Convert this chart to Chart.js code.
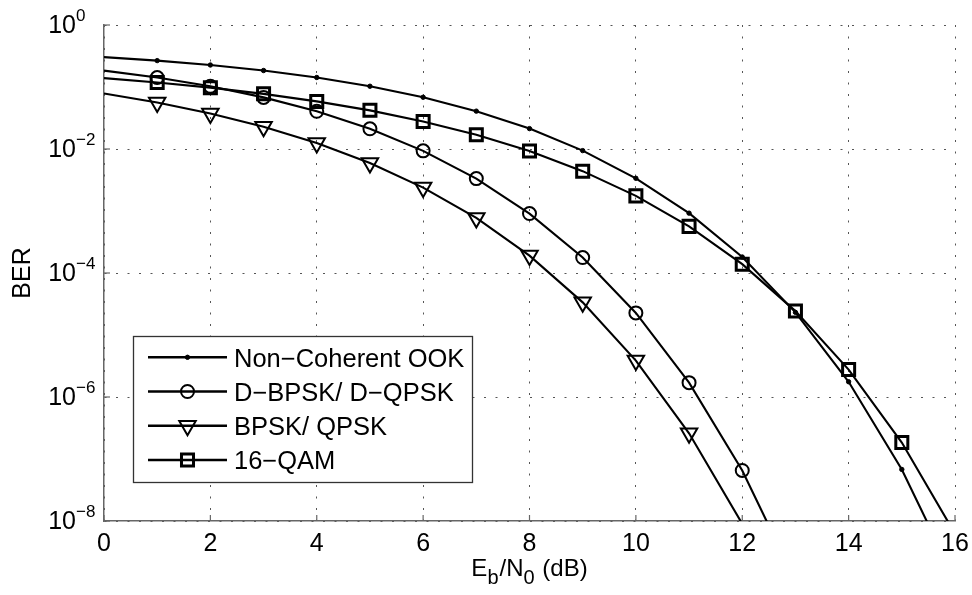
<!DOCTYPE html>
<html><head><meta charset="utf-8">
<script src="https://cdn.jsdelivr.net/npm/chart.js@4.4.1/dist/chart.umd.min.js"></script>
<style>html,body{margin:0;padding:0;background:#fff;}#wrap{position:relative;width:972px;height:595px;}</style>
</head><body><div id="wrap"><canvas id="c" width="972" height="595"></canvas></div>
<script>
// ---- data ----
const ebn0 = [0,1,2,3,4,5,6,7,8,9,10,11,12,13,14,15,16];
const ook   = [0.3033,0.2665,0.2264,0.1844,0.1424,0.1029,0.0683,0.0408,0.02133,0.009424,0.003369,9.23e-4,1.81e-4,2.32e-5,1.76e-6,6.79e-8,1.13e-9];
const dbpsk = [0.1839,0.1420,0.1025,0.0680,0.04056,0.02116,0.009333,0.003329,9.09e-4,1.775e-4,2.27e-5,1.705e-6,6.54e-8,1.08e-9,null,null,null];
const bpsk  = [0.07865,0.0563,0.0375,0.02287,0.0125,0.005954,0.002388,7.73e-4,1.907e-4,3.36e-5,3.87e-6,2.60e-7,9.01e-9,1.33e-10,null,null,null];
const qam16 = [0.1393,0.1184,0.0976,0.0775,0.0586,0.0420,0.02787,0.01697,0.009247,0.00439,0.001754,5.65e-4,1.387e-4,2.43e-5,2.77e-6,1.84e-7,6.25e-9];
const seriesNames = ['Non\u2212Coherent OOK','D\u2212BPSK/ D\u2212QPSK','BPSK/ QPSK','16\u2212QAM'];
const xTickValues = [0,2,4,6,8,10,12,14,16];
const yTickExponents = [0,-2,-4,-6,-8];
const yAxisTitle = 'BER';
const xAxisTitleParts = [{t:'E'},{t:'b',sub:true},{t:'/N'},{t:'0',sub:true},{t:' (dB)'}];

// ---- styling ----
const FONT = '"Liberation Sans", Arial, Helvetica, sans-serif';
Chart.defaults.font.family = FONT;
const Y_MIN = 1e-8, Y_MAX = 1;
const styles = [
  {pointStyle:'circle', r:2.2, bw:1, fill:'#000', rot:0},
  {pointStyle:'circle', r:6.5, bw:2, fill:'rgba(0,0,0,0)', rot:0},
  {pointStyle:'triangle', r:9.5, bw:2, fill:'rgba(0,0,0,0)', rot:180},
  {pointStyle:'rect', r:8.5, bw:3, fill:'rgba(0,0,0,0)', rot:0}
];
const seriesValues = [ook, dbpsk, bpsk, qam16];

const datasets = seriesValues.map((vals, k) => {
  const pts = [];
  ebn0.forEach((x, i) => { if (vals[i] !== null) pts.push({x: x, y: vals[i]}); });
  const st = styles[k];
  return {
    label: seriesNames[k],
    data: pts,
    borderColor: '#000',
    borderWidth: 2.1,
    backgroundColor: st.fill,
    pointStyle: st.pointStyle,
    pointRotation: st.rot,
    pointRadius: pts.map((p, i) => (i === 0 || p.y < Y_MIN) ? 0 : st.r),
    pointHoverRadius: pts.map((p, i) => (i === 0 || p.y < Y_MIN) ? 0 : st.r),
    pointBorderWidth: st.bw,
    pointBorderColor: '#000',
    pointBackgroundColor: st.fill,
    tension: 0,
    fill: false
  };
});

function drawMarker(ctx, st, x, y) {
  ctx.save();
  ctx.lineWidth = st.bw; ctx.strokeStyle = '#000'; ctx.fillStyle = st.fill;
  ctx.beginPath();
  if (st.pointStyle === 'circle') {
    ctx.arc(x, y, st.r, 0, Math.PI * 2);
  } else if (st.pointStyle === 'rect') {
    const s = st.r * Math.SQRT1_2;
    ctx.rect(x - s, y - s, 2 * s, 2 * s);
  } else if (st.pointStyle === 'triangle') {
    let a = st.rot * Math.PI / 180;
    for (let j = 0; j < 3; j++) {
      const px = x + Math.sin(a) * st.r, py = y - Math.cos(a) * st.r;
      if (j === 0) ctx.moveTo(px, py); else ctx.lineTo(px, py);
      a += 2 * Math.PI / 3;
    }
    ctx.closePath();
  }
  ctx.fill(); ctx.stroke();
  ctx.restore();
}

const overlay = {
  id: 'overlay',
  afterDraw(chart) {
    const ctx = chart.ctx, ca = chart.chartArea, xs = chart.scales.x, ys = chart.scales.y;
    ctx.save();
    // inside tick marks
    ctx.strokeStyle = '#666'; ctx.lineWidth = 1.2;
    xTickValues.forEach(v => {
      const px = xs.getPixelForValue(v);
      ctx.beginPath(); ctx.moveTo(px, ca.bottom); ctx.lineTo(px, ca.bottom - 6); ctx.stroke();
    });
    yTickExponents.forEach(e => {
      const py = ys.getPixelForValue(Math.pow(10, e));
      ctx.beginPath(); ctx.moveTo(ca.left, py); ctx.lineTo(ca.left + 6, py); ctx.stroke();
    });
    // y tick labels 10^e
    ctx.fillStyle = '#000';
    yTickExponents.forEach(e => {
      const py = ys.getPixelForValue(Math.pow(10, e));
      ctx.font = '25px ' + FONT; ctx.textAlign = 'right'; ctx.textBaseline = 'middle';
      ctx.fillText('10', ca.left - 28, py + 1);
      ctx.font = '17px ' + FONT; ctx.textAlign = 'left';
      ctx.fillText(e === 0 ? '0' : '\u2212' + (-e), ca.left - 28, py - 9);
    });
    // x axis title with subscripts
    const big = '24px ' + FONT, small = '20px ' + FONT;
    let total = 0;
    xAxisTitleParts.forEach(p => { ctx.font = p.sub ? small : big; total += ctx.measureText(p.t).width + (p.sub ? 1 : 0); });
    let cx = (ca.left + ca.right) / 2 - total / 2;
    const base = ca.bottom + 55;
    ctx.textAlign = 'left'; ctx.textBaseline = 'alphabetic';
    xAxisTitleParts.forEach(p => {
      ctx.font = p.sub ? small : big;
      ctx.fillText(p.t, cx, base + (p.sub ? 8 : 0));
      cx += ctx.measureText(p.t).width + (p.sub ? 1 : 0);
    });
    // legend
    const bx = ca.left + 29, by = ca.top + 311, bw = 339, bh = 146;
    ctx.fillStyle = '#fff'; ctx.fillRect(bx, by, bw, bh);
    ctx.strokeStyle = '#333'; ctx.lineWidth = 1.3; ctx.strokeRect(bx + 0.5, by + 0.5, bw, bh);
    seriesNames.forEach((name, k) => {
      const ry = by + 21.3 + k * 34.2;
      ctx.strokeStyle = '#000'; ctx.lineWidth = 2.5;
      ctx.beginPath(); ctx.moveTo(bx + 15, ry); ctx.lineTo(bx + 94, ry); ctx.stroke();
      drawMarker(ctx, styles[k], bx + 54.5, ry);
      ctx.fillStyle = '#000'; ctx.font = '25.5px ' + FONT; ctx.textAlign = 'left'; ctx.textBaseline = 'alphabetic';
      ctx.fillText(name, bx + 101, ry + 9.2);
    });
    ctx.restore();
  }
};

new Chart(document.getElementById('c'), {
  type: 'line',
  data: { datasets: datasets },
  options: {
    responsive: false,
    animation: false,
    devicePixelRatio: 1,
    layout: { padding: { left: 0, top: 25, right: 17, bottom: 0 } },
    plugins: { legend: { display: false }, tooltip: { enabled: false } },
    scales: {
      x: {
        type: 'linear', min: 0, max: 16,
        afterBuildTicks: s => { s.ticks = xTickValues.map(v => ({value: v})); },
        afterFit: s => { s.height = 74; s.paddingLeft = 0; s.paddingRight = 0; },
        ticks: { color: '#000', font: { size: 25 }, padding: 8, maxRotation: 0 },
        grid: { color: '#555', lineWidth: 1, drawTicks: false },
        border: { display: true, color: '#666', width: 1.5, dash: [2, 9.5] }
      },
      y: {
        type: 'logarithmic', min: Y_MIN, max: Y_MAX,
        afterBuildTicks: s => { s.ticks = yTickExponents.map(e => ({value: Math.pow(10, e)})); },
        afterFit: s => { s.width = 104; s.paddingTop = 0; s.paddingBottom = 0; },
        ticks: { display: false },
        title: { display: true, text: yAxisTitle, color: '#000', font: { size: 25 }, padding: { top: 8, bottom: 0 } },
        grid: { color: '#555', lineWidth: 1, drawTicks: false },
        border: { display: true, color: '#666', width: 1.5, dash: [2, 9.5] }
      }
    }
  },
  plugins: [overlay]
});
</script>
</body></html>
